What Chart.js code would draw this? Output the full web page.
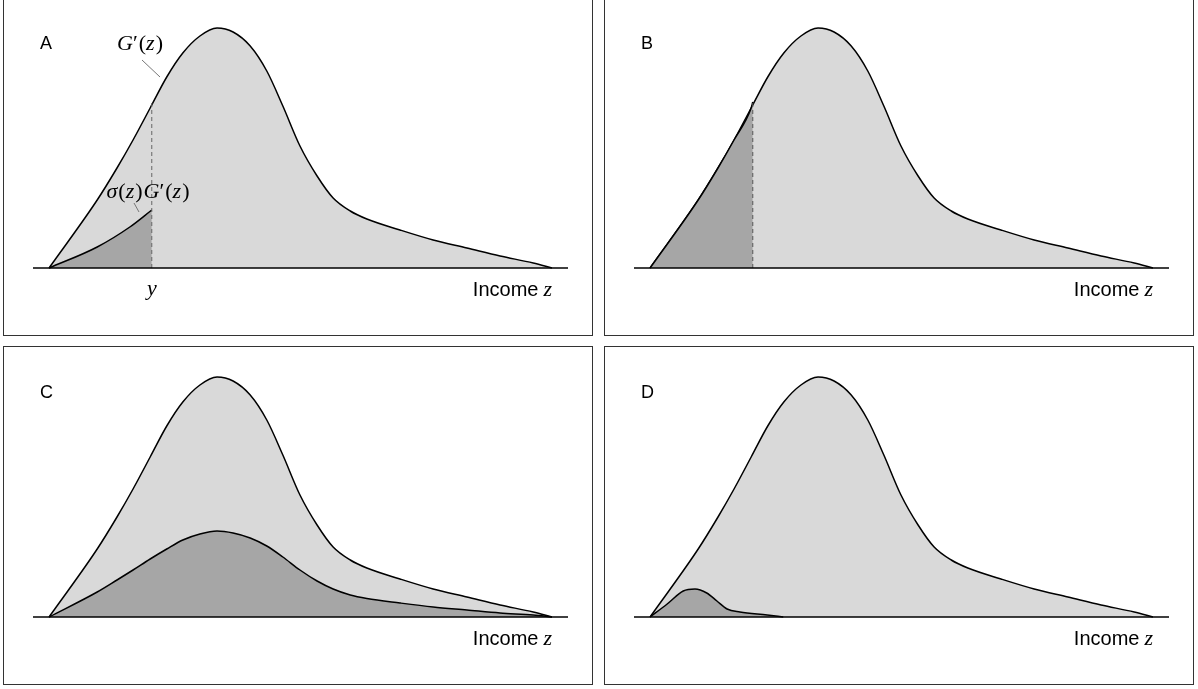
<!DOCTYPE html>
<html>
<head>
<meta charset="utf-8">
<script src="https://cdn.jsdelivr.net/npm/chart.js@4/dist/chart.umd.min.js"></script>
<style>
  html, body { margin: 0; padding: 0; background: #fff; width: 1198px; height: 689px; overflow: hidden; }
  canvas { position: absolute; }
  .box { position: absolute; box-sizing: border-box; border: 1.5px solid #333; pointer-events: none; }
</style>
</head>
<body>
<canvas id="cA" width="590" height="339" style="left:3px;top:-3px;width:590px;height:339px"></canvas>
<canvas id="cB" width="590" height="339" style="left:604px;top:-3px;width:590px;height:339px"></canvas>
<canvas id="cC" width="590" height="339" style="left:3px;top:346px;width:590px;height:339px"></canvas>
<canvas id="cD" width="590" height="339" style="left:604px;top:346px;width:590px;height:339px"></canvas>
<div class="box" style="left:3px;top:-3px;width:590px;height:339px"></div>
<div class="box" style="left:604px;top:-3px;width:590px;height:339px"></div>
<div class="box" style="left:3px;top:346px;width:590px;height:339px"></div>
<div class="box" style="left:604px;top:346px;width:590px;height:339px"></div>
<script>
// ---- data (income on a 0..100 scale, densities on a 0..1 scale) ----
const income  = [3.0, 12.0, 15.7, 18.7, 21.9, 25.0, 28.0, 31.2, 34.4, 37.4, 40.6, 43.7, 46.7, 49.9, 53.1, 56.1, 59.3, 62.4, 68.6, 74.8, 81.1, 87.3, 93.5, 97.0];
const density = [0, 0.272, 0.40, 0.512, 0.64, 0.764, 0.86, 0.928, 0.96, 0.944, 0.888, 0.788, 0.648, 0.488, 0.368, 0.28, 0.228, 0.196, 0.152, 0.112, 0.08, 0.048, 0.02, 0];

// Panel A: sigma(z)G'(z) up to y
const yCut = 22.2;
const yCutDensity = 0.664;
const incomeSigmaA = [3.0, 12.0, 18.1, 22.2];
const sigmaA       = [0, 0.084, 0.164, 0.232];

// Panel B: sigma = 1 below y
const incomeSigmaB = [3.0, 12.0, 15.7, 18.7, 21.9, 22.2];
const sigmaB       = [0, 0.272, 0.40, 0.512, 0.64, 0.664];

// Panel C: sigma spread across all incomes
const sigmaC = [0, 0.10, 0.148, 0.188, 0.232, 0.272, 0.308, 0.332, 0.344, 0.336, 0.316, 0.284, 0.24, 0.188, 0.144, 0.112, 0.088, 0.074, 0.056, 0.04, 0.028, 0.016, 0.008, 0];

// Panel D: sigma concentrated at low incomes
const incomeSigmaD = [3.0, 6.2, 9.2, 11.4, 13.6, 15.5, 17.4, 19.8, 24.9, 27.9];
const sigmaD       = [0, 0.052, 0.104, 0.112, 0.096, 0.064, 0.032, 0.02, 0.008, 0];

const axisRange = [0, 100];
const panelLetters = ['A', 'B', 'C', 'D'];

// ---- helpers ----
const LIGHT = '#d9d9d9', DARK = '#a6a6a6';
const pts = (xs, ys) => xs.map((x, i) => ({ x: x, y: ys[i] }));

function curve(data, fillColor, order) {
  return { data: data, borderColor: '#000', borderWidth: 1.5, backgroundColor: fillColor,
           fill: 'origin', pointRadius: 0, cubicInterpolationMode: 'monotone', order: order, clip: false };
}
function baseline() {
  return { data: [{ x: axisRange[0], y: 0 }, { x: axisRange[1], y: 0 }], borderColor: '#000', borderWidth: 1.5,
           fill: false, pointRadius: 0, order: -2, clip: false };
}
function dashed(color) {
  return { data: [{ x: yCut, y: 0 }, { x: yCut, y: yCutDensity }], borderColor: color, borderWidth: 1,
           borderDash: [4, 3], fill: false, pointRadius: 0, order: -1, clip: false };
}

function drawRuns(ctx, runs, x, y, size) {
  let total = 0;
  const fonts = runs.map(r => (r[1] ? 'italic ' : '') + size + 'px "Liberation Serif", "DejaVu Serif", serif');
  runs.forEach((r, i) => { ctx.font = fonts[i]; total += ctx.measureText(r[0]).width + (r[2] || 0); });
  let cx = x - total / 2;
  ctx.textAlign = 'left';
  runs.forEach((r, i) => { ctx.font = fonts[i]; ctx.fillText(r[0], cx, y); cx += ctx.measureText(r[0]).width + (r[2] || 0); });
}

function labelsPlugin(letter, extra) {
  return {
    id: 'labels' + letter,
    afterDatasetsDraw(chart) {
      const ctx = chart.ctx;
      const xs = chart.scales.x, ys = chart.scales.y;
      ctx.save();
      ctx.fillStyle = '#000';
      ctx.textBaseline = 'middle';
      ctx.font = '18px "Liberation Sans", Arial, sans-serif';
      ctx.textAlign = 'left';
      ctx.fillText(letter, 37, 47);
      const right = xs.getPixelForValue(axisRange[1]) - 16;
      ctx.font = 'italic 22px "Liberation Serif", serif';
      const zw = ctx.measureText('z').width;
      ctx.fillText('z', right - zw, ys.getPixelForValue(0) + 22);
      ctx.font = '20px "Liberation Sans", Arial, sans-serif';
      ctx.textAlign = 'right';
      ctx.fillText('Income', right - zw - 5, ys.getPixelForValue(0) + 22);
      if (extra) extra(chart, ctx, xs, ys);
      ctx.restore();
    }
  };
}

function makeChart(id, datasets, letter, extra) {
  return new Chart(document.getElementById(id), {
    type: 'line',
    data: { datasets: datasets },
    options: {
      responsive: false, animation: false, events: [],
      layout: { padding: { left: 30, right: 25, top: 21, bottom: 68 } },
      plugins: { legend: { display: false }, tooltip: { enabled: false } },
      scales: {
        x: { type: 'linear', min: axisRange[0], max: axisRange[1], display: false },
        y: { type: 'linear', min: 0, max: 1, display: false }
      }
    },
    plugins: [labelsPlugin(letter, extra)]
  });
}

// Panel A
makeChart('cA', [
  curve(pts(incomeSigmaA, sigmaA), DARK, 0),
  curve(pts(income, density), LIGHT, 1),
  dashed('#666'),
  baseline()
], panelLetters[0], (chart, ctx, xs, ys) => {
  const px = xs.getPixelForValue(yCut);
  drawRuns(ctx, [['G', true], ['\u2032', false, 1], ['(', false], ['z', true, 1], [')', false]], 137, 47, 22);
  ctx.strokeStyle = '#777'; ctx.lineWidth = 1;
  ctx.beginPath(); ctx.moveTo(139, 63); ctx.lineTo(157, 80); ctx.stroke();
  drawRuns(ctx, [['\u03C3', true, 1], ['(', false], ['z', true, 1], [')', false, 1], ['G', true], ['\u2032', false, 1], ['(', false], ['z', true, 1], [')', false]], 145, 195, 22);
  ctx.beginPath(); ctx.moveTo(131, 206); ctx.lineTo(136, 215); ctx.stroke();
  drawRuns(ctx, [['y', true]], px, ys.getPixelForValue(0) + 21, 22);
});

// Panel B
makeChart('cB', [
  curve(pts(incomeSigmaB, sigmaB), DARK, 0),
  curve(pts(income, density), LIGHT, 1),
  dashed('#555'),
  baseline()
], panelLetters[1]);

// Panel C
makeChart('cC', [
  curve(pts(income, sigmaC), DARK, 0),
  curve(pts(income, density), LIGHT, 1),
  baseline()
], panelLetters[2]);

// Panel D
makeChart('cD', [
  curve(pts(incomeSigmaD, sigmaD), DARK, 0),
  curve(pts(income, density), LIGHT, 1),
  baseline()
], panelLetters[3]);
</script>
</body>
</html>
